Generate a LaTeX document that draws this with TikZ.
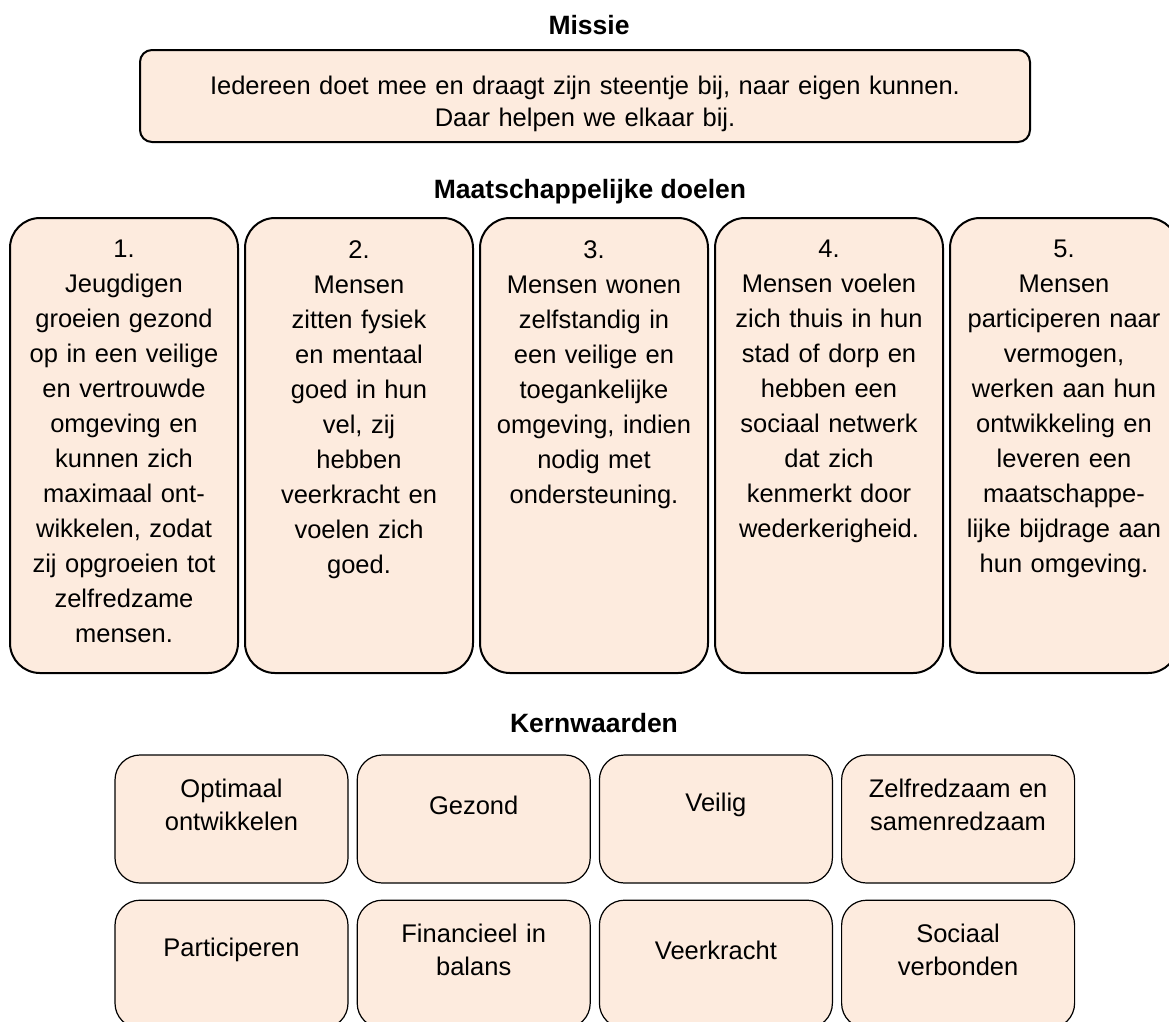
\documentclass[tikz,border=0pt]{standalone}
\usepackage{fontspec}
\setmainfont{Liberation Sans}
\usepackage{tikz}
\usetikzlibrary{positioning}
\definecolor{peach}{RGB}{253,235,222}

\begin{document}
\begin{tikzpicture}[x=1pt,y=-1pt]
    % `heading' is used for the three section titles.
    % `missionbox', `goalbox' and `valuebox' are the rounded boxes.
    \tikzstyle{heading} = [font=\fontsize{26.5}{30}\selectfont\bfseries,inner sep=0pt,anchor=base]
    \tikzstyle{missionbox} = [draw,line width=2pt,fill=peach,rounded corners=12pt,minimum width=890pt,minimum height=92pt,inner sep=0pt]
    \tikzstyle{goalbox} = [draw,line width=2pt,fill=peach,rounded corners=30pt,minimum width=228pt,minimum height=455pt,inner sep=0pt]
    \tikzstyle{valuebox} = [draw,line width=1.2pt,fill=peach,rounded corners=25pt,minimum width=233pt,minimum height=128pt,inner sep=0pt]
    \tikzstyle{bodytext} = [font=\fontsize{25.5}{35}\selectfont,align=center,text width=226pt,inner sep=0pt]
    \tikzstyle{valuetext} = [font=\fontsize{25.5}{33}\selectfont,align=center,text width=226pt,inner sep=0pt]
    %
    \useasboundingbox (0,0) rectangle (1169,1021);
    \clip (0,0) rectangle (1169,1021);
    %
    % Mission.
    \node[heading] (missiontitle) at (589,34) {Missie};
    \node[missionbox] (mission) at (585,96) {};
    \node[bodytext,text width=880pt,font=\fontsize{25.5}{32}\selectfont] (missiontext) at (585,104) {Iedereen doet mee en draagt zijn steentje bij, naar eigen kunnen.\\Daar helpen we elkaar bij.};
    %
    % Societal goals.
    \node[heading] (goaltitle) at (590,198) {Maatschappelijke doelen};
    \node[goalbox] (goal1) at (124,445.5) {};
    \node[goalbox,right=5pt of goal1] (goal2) {};
    \node[goalbox,right=5pt of goal2] (goal3) {};
    \node[goalbox,right=5pt of goal3] (goal4) {};
    \node[goalbox,right=5pt of goal4] (goal5) {};
    \node[bodytext,below=23pt of goal1.north] (goal1text) {1.\\Jeugdigen\\groeien gezond\\op in een veilige\\en vertrouwde\\omgeving en\\kunnen zich\\maximaal ont-\\wikkelen, zodat\\zij opgroeien tot\\zelfredzame\\mensen.};
    \node[bodytext,below=23pt of goal2.north] (goal2text) {2.\\Mensen\\zitten fysiek\\en mentaal\\goed in hun\\vel, zij\\hebben\\veerkracht en\\voelen zich\\goed.};
    \node[bodytext,below=23pt of goal3.north] (goal3text) {3.\\Mensen wonen\\zelfstandig in\\een veilige en\\toegankelijke\\omgeving, indien\\nodig met\\ondersteuning.};
    \node[bodytext,below=23pt of goal4.north] (goal4text) {4.\\Mensen voelen\\zich thuis in hun\\stad of dorp en\\hebben een\\sociaal netwerk\\dat zich\\kenmerkt door\\wederkerigheid.};
    \node[bodytext,below=23pt of goal5.north] (goal5text) {5.\\Mensen\\participeren naar\\vermogen,\\werken aan hun\\ontwikkeling en\\leveren een\\maatschappe-\\lijke bijdrage aan\\hun omgeving.};
    %
    % Core values.
    \node[heading] (valuetitle) at (594,732) {Kernwaarden};
    \node[valuebox] (val1) at (231.5,819) {};
    \node[valuebox,right=8pt of val1] (val2) {};
    \node[valuebox,right=8pt of val2] (val3) {};
    \node[valuebox,right=8pt of val3] (val4) {};
    \node[valuebox,below=16pt of val1] (val5) {};
    \node[valuebox,right=8pt of val5] (val6) {};
    \node[valuebox,right=8pt of val6] (val7) {};
    \node[valuebox,right=8pt of val7] (val8) {};
    \node[valuetext] (val1text) at ([yshift=14pt]val1.center) {Optimaal\\ontwikkelen};
    \node[valuetext] (val2text) at ([yshift=14pt]val2.center) {Gezond};
    \node[valuetext] (val3text) at ([yshift=14pt]val3.center) {Veilig};
    \node[valuetext] (val4text) at ([yshift=14pt]val4.center) {Zelfredzaam en\\samenredzaam};
    \node[valuetext] (val5text) at ([yshift=14pt]val5.center) {Participeren};
    \node[valuetext] (val6text) at ([yshift=14pt]val6.center) {Financieel in\\balans};
    \node[valuetext] (val7text) at ([yshift=14pt]val7.center) {Veerkracht};
    \node[valuetext] (val8text) at ([yshift=14pt]val8.center) {Sociaal\\verbonden};
\end{tikzpicture}
\end{document}
